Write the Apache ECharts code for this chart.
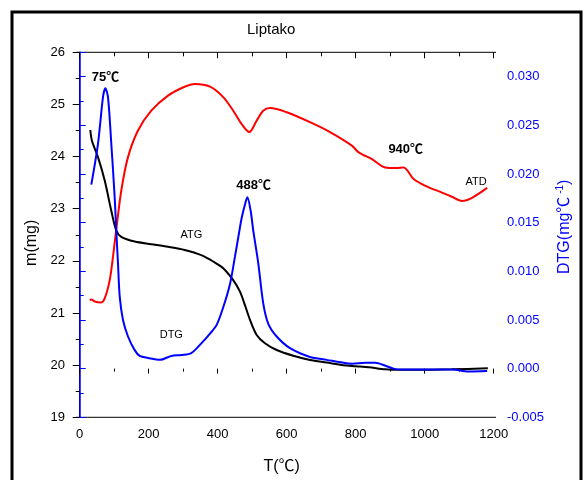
<!DOCTYPE html>
<html><head><meta charset="utf-8">
<script src="https://cdn.jsdelivr.net/npm/echarts@6/dist/echarts.min.js"></script>
<style>html,body{margin:0;padding:0;background:#fff}#c{width:584px;height:480px}</style>
</head><body><div id="c"></div>
<script>
// ---- data ----
const atgData = [[30.7,24.51],[35.7,24.30],[53,23.99],[72.5,23.54],[91.6,22.96],[106,22.58],[120.6,22.46],[159.4,22.37],[207.5,22.32],[256,22.27],[304,22.21],[352.5,22.11],[389,21.98],[416,21.86],[445,21.63],[464.6,21.41],[479,21.15],[493.6,20.87],[513,20.58],[537,20.42],[571,20.29],[619,20.18],[667.5,20.10],[716,20.05],[764,20.00],[801,19.98],[838,19.96],[886,19.92],[925,19.91],[983,19.91],[1079,19.92],[1183,19.94]];
const dtgData = [[33.6,0.0189],[53,0.0231],[67.5,0.0279],[74.3,0.0288],[82,0.0279],[91.6,0.0231],[101.4,0.0176],[106,0.0142],[111,0.0108],[116,0.0074],[125.5,0.0050],[140,0.0033],[159.4,0.0019],[174,0.0013],[198,0.0011],[232,0.0009],[265.5,0.0013],[294.5,0.0014],[323.5,0.0016],[352.5,0.0026],[377.7,0.0036],[397,0.0045],[416,0.0063],[435.7,0.0087],[450,0.0115],[459.7,0.0135],[469.6,0.0155],[480,0.0170],[486,0.0176],[495.6,0.0162],[503,0.0142],[517.7,0.0108],[532,0.0067],[546.7,0.0046],[571,0.0033],[609.6,0.0021],[667.5,0.0012],[716,0.0009],[764,0.0006],[790,0.0005],[828,0.0006],[857,0.0006],[886,0.0003],[910,0.0000],[929,-0.0001],[983,-0.0001],[1079,-0.0001],[1127,-0.0003],[1181,-0.00025]];
// ATD has no scale in the reference; drawn on a hidden axis
const atdData = [[29,21.25],[33.6,21.26],[43.5,21.22],[61,21.20],[72.5,21.28],[87,21.63],[96.5,22.08],[105,22.55],[120.6,23.35],[140,23.99],[169,24.50],[207.5,24.88],[256,25.17],[304,25.34],[333,25.39],[377.7,25.34],[416,25.14],[445,24.88],[469.6,24.62],[491.6,24.47],[513,24.69],[532,24.88],[551.6,24.93],[600,24.85],[667.5,24.66],[725.5,24.47],[789,24.21],[808.7,24.08],[847,23.95],[886,23.79],[915,23.78],[939,23.79],[968,23.57],[1002,23.44],[1050,23.31],[1079,23.23],[1108,23.15],[1137,23.21],[1181,23.40]];
const dtgNotes = [['75℃',74.8,0.02994,'bold',13],['488℃',504,0.01886,'bold',13],['DTG',265.5,0.00346,'normal',11]];
const atgNotes = [['ATG',324,22.50,'normal',11]];
const atdNotes = [['940℃',945,24.13,'bold',13],['ATD',1149,23.51,'normal',11]];
const xRange = [0,1200,200];
const leftRange = [19,26,1];
const rightRange = [-0.005,0.0325,0.005];

// ---- layout ----
const FONT = "'Liberation Sans', Arial, 'Noto Sans CJK SC', sans-serif";
const gL = 79.7, gR = 493.7, gT = 52.3, gB = 417.3;
const offL = 3.7, offR = 2.3;

function notes(arr){
  return arr.map(a => ({name:a[0], coord:[a[1],a[2]], label:{fontWeight:a[3], fontSize:a[4]}}));
}
function mp(arr){
  return {symbol:'circle', symbolSize:0, silent:true, itemStyle:{color:'rgba(0,0,0,0)'},
    label:{show:true, position:'inside', color:'#000', fontFamily:FONT, formatter:p=>p.name},
    data:notes(arr)};
}

const chart = echarts.init(document.getElementById('c'), null, {renderer:'canvas'});
chart.setOption({
  animation:false,
  backgroundColor:'#fff',
  title:{text:'Liptako', left:247, top:22, padding:0, textStyle:{fontFamily:FONT, fontSize:15, fontWeight:'normal', color:'#000'}},
  grid:{left:gL, right:584-gR, top:gT, bottom:480-gB, containLabel:false},
  xAxis:[{
    type:'value', position:'bottom', min:xRange[0], max:xRange[1], interval:xRange[2],
    axisLine:{show:false},
    axisTick:{show:true, length:5, lineStyle:{color:'#000'}},
    minorTick:{show:true, splitNumber:2, length:3, lineStyle:{color:'#000'}},
    axisLabel:{color:'#000', fontSize:13, fontFamily:FONT, margin:11, formatter:v=>String(v)},
    splitLine:{show:false},
    name:'T(℃)', nameLocation:'middle', nameGap:41,
    nameTextStyle:{fontFamily:FONT, fontSize:16, color:'#000', padding:[0,10,0,0]}
  },{
    type:'value', position:'top', min:xRange[0], max:xRange[1], interval:xRange[2],
    axisLine:{show:false},
    axisTick:{show:true, inside:true, length:6, lineStyle:{color:'#000'}},
    minorTick:{show:true, splitNumber:2, length:4, lineStyle:{color:'#000'}},
    axisLabel:{show:false}, splitLine:{show:false}
  }],
  yAxis:[{
    type:'value', position:'left', min:leftRange[0], max:leftRange[1], interval:leftRange[2], offset:offL,
    axisLine:{show:true, lineStyle:{color:'#000', width:1}},
    axisTick:{show:true, length:7, lineStyle:{color:'#000'}},
    minorTick:{show:true, splitNumber:2, length:4, lineStyle:{color:'#000'}},
    axisLabel:{color:'#000', fontSize:13, fontFamily:FONT, margin:11},
    splitLine:{show:false},
    name:'m(mg)', nameLocation:'middle', nameGap:34,
    nameTextStyle:{fontFamily:FONT, fontSize:16, color:'#000', padding:[0,16,0,0]}
  },{
    type:'value', position:'right', min:rightRange[0], max:rightRange[1], interval:rightRange[2], offset:offR,
    axisLine:{show:true, lineStyle:{color:'#0000ff', width:1.5}},
    axisTick:{show:true, length:6, lineStyle:{color:'#0000ff'}},
    minorTick:{show:true, splitNumber:2, length:4, lineStyle:{color:'#0000ff'}},
    axisLabel:{color:'#0000ff', fontSize:13, fontFamily:FONT, margin:11, showMaxLabel:false,
      formatter:v=>v.toFixed(3)},
    splitLine:{show:false},
    name:'DTG(mg℃{sup| -1})', nameLocation:'middle', nameGap:50,
    nameTextStyle:{fontFamily:FONT, fontSize:16, color:'#0000ff', padding:[0,0,0,16],
      rich:{sup:{fontFamily:FONT, fontSize:10, color:'#0000ff', padding:[0,0,9,0]}}}
  },{
    type:'value', show:false, min:leftRange[0], max:leftRange[1]
  }],
  series:[{
    name:'ATG', type:'line', xAxisIndex:0, yAxisIndex:0, data:atgData, showSymbol:false,
    smooth:0.3, lineStyle:{color:'#000', width:2}, z:3, markPoint:mp(atgNotes)
  },{
    name:'DTG', type:'line', xAxisIndex:0, yAxisIndex:1, data:dtgData, showSymbol:false,
    smooth:0.3, lineStyle:{color:'#0000ff', width:2}, z:4, markPoint:mp(dtgNotes)
  },{
    name:'ATD', type:'line', xAxisIndex:0, yAxisIndex:2, data:atdData, showSymbol:false,
    smooth:0.3, lineStyle:{color:'#ff0000', width:2}, z:2, markPoint:mp(atdNotes)
  }],
  graphic:[
    {type:'rect', shape:{x:12, y:12, width:569, height:480}, style:{fill:'none', stroke:'#000', lineWidth:3}, silent:true},
    {type:'line', shape:{x1:gL-offL, y1:gB, x2:gR+offR, y2:gB}, style:{stroke:'#000', lineWidth:1}, silent:true},
    {type:'line', shape:{x1:gL-offL, y1:gT, x2:gR+offR, y2:gT}, style:{stroke:'#000', lineWidth:1}, silent:true}
  ]
});
</script></body></html>
